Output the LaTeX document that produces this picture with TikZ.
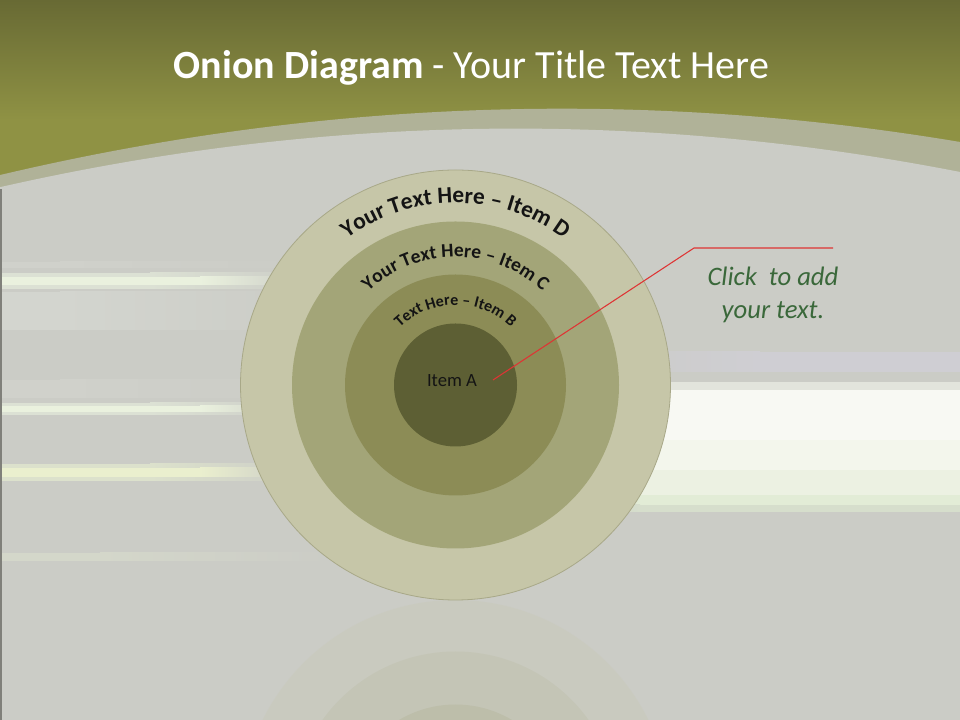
\documentclass[tikz,border=0pt]{standalone}
\usepackage{fontspec}
\setmainfont{Carlito}
\usetikzlibrary{decorations.text}
\definecolor{bgray}{RGB}{203,204,198}
\definecolor{bandc}{RGB}{176,178,152}
\definecolor{olTop}{RGB}{104,106,52}
\definecolor{olBot}{RGB}{143,146,68}
\definecolor{ringD}{RGB}{198,198,168}
\definecolor{ringC}{RGB}{163,165,120}
\definecolor{ringB}{RGB}{140,140,86}
\definecolor{ringA}{RGB}{93,95,52}
\definecolor{ringEdge}{RGB}{168,168,136}
\definecolor{calloutRed}{RGB}{222,52,52}
\definecolor{calloutGreen}{RGB}{58,104,58}
\definecolor{edgeGray}{RGB}{128,128,122}
% streak colours
\definecolor{sBright}{RGB}{234,241,222}
\definecolor{sSoft}{RGB}{220,225,212}
\definecolor{sBroad}{RGB}{211,213,207}
\definecolor{sFaint}{RGB}{208,209,203}
\definecolor{sYel}{RGB}{234,239,206}
\definecolor{sYelSoft}{RGB}{220,225,204}
\definecolor{sLow}{RGB}{212,215,202}
\definecolor{rLav}{RGB}{207,206,211}
\definecolor{rEdge}{RGB}{226,228,220}
\definecolor{rW1}{RGB}{248,249,243}
\definecolor{rW2}{RGB}{243,246,236}
\definecolor{rW3}{RGB}{236,241,226}
\definecolor{rW4}{RGB}{226,236,214}
\definecolor{rW5}{RGB}{214,222,204}
% streak helpers
\newcommand\leftstreak[5]{\fill[#5] (0,{720-#3}) rectangle (#1,{720-#4});
  \shade[left color=#5, right color=bgray] (#1,{720-#3}) rectangle (#2,{720-#4});}
\newcommand\rightstreak[5]{\shade[left color=bgray, right color=#5] (#1,{720-#3}) rectangle (#2,{720-#4});
  \fill[#5] (#2,{720-#3}) rectangle (960,{720-#4});}
\tikzset{
  ring/.style={circle, inner sep=0pt, outer sep=0pt},
  arctext/.style={decorate, decoration={text along path, text align=center, text color=black!92}},
  refl/.style={circle, inner sep=0pt, fill opacity=#1},
}
\begin{document}
\begin{tikzpicture}[x=0.75pt,y=0.75pt]
\useasboundingbox (0,0) rectangle (960,720);
\begin{scope}
\clip (0,0) rectangle (960,720);
% header
\shade[top color=olTop, bottom color=olBot] (0,720) rectangle (960,600);
\fill[olBot] (0,600.5) rectangle (960,500);
% band
\fill[bandc] plot[domain=0:960,samples=60] (\x,{720-108.7-2.1*((\x-562)/100)^2}) -- (960,480) -- (0,480) -- cycle;
% gray body
\fill[bgray] plot[domain=0:960,samples=60] (\x,{720-128.6-2.2*((\x-516)/100)^2}) -- (960,0) -- (0,0) -- cycle;
% streaks left
\leftstreak{60}{330}{292}{330}{sBroad}
\leftstreak{60}{320}{380}{398}{sFaint}
\leftstreak{60}{300}{262}{268}{sFaint}
\leftstreak{150}{320}{273}{289}{sSoft}
\leftstreak{200}{310}{277}{285}{sBright}
\leftstreak{150}{320}{403}{415}{sSoft}
\leftstreak{200}{300}{406}{412}{sBright}
\leftstreak{150}{320}{464}{481}{sYelSoft}
\leftstreak{200}{300}{468}{477}{sYel}
\leftstreak{100}{330}{553}{561}{sLow}
% streaks right
\rightstreak{560}{760}{352}{372}{rLav}
\rightstreak{560}{640}{382}{390}{rEdge}
\rightstreak{560}{640}{390}{440}{rW1}
\rightstreak{560}{640}{440}{470}{rW2}
\rightstreak{560}{640}{470}{495}{rW3}
\rightstreak{560}{640}{495}{505}{rW4}
\rightstreak{560}{640}{505}{512}{rW5}
% left edge line
\fill[edgeGray] (0,0) rectangle (2,{720-189});
% reflection
\node[refl=0.22, fill=ringD, minimum size=322.5pt] (reflD) at (455.5,-95) {};
\node[refl=0.12, fill=ringC, minimum size=245.25pt] (reflC) at (455.5,-95) {};
\node[refl=0.12, fill=ringB, minimum size=165.75pt] (reflB) at (455.5,-95) {};
\end{scope}
% rings
\node[ring, fill=ringD, draw=ringEdge, line width=0.6pt, minimum size=322.5pt] (itemD) at (455.5,335) {};
\node[ring, fill=ringC, minimum size=245.25pt] (itemC) at (455.5,335) {};
\node[ring, fill=ringB, minimum size=165.75pt] (itemB) at (455.5,335) {};
\node[ring, fill=ringA, minimum size=92.25pt] (itemA) at (455.5,335) {};
% curved texts
\path[arctext, decoration={text={|\fontsize{17.5}{20}\selectfont\bfseries|Your Text Here – Item D}}]
  (455.5,335) ++(180:182) arc[start angle=180, end angle=0, radius=182];
\path[arctext, decoration={text={|\fontsize{14.6}{17}\selectfont\bfseries|Your Text Here – Item C}}]
  (455.5,335) ++(180:128) arc[start angle=180, end angle=0, radius=128];
\path[arctext, decoration={text={|\fontsize{12}{14}\selectfont\bfseries|Text Here – Item B}}]
  (455.5,335) ++(180:80) arc[start angle=180, end angle=0, radius=80];
\node[font=\fontsize{14}{16}\selectfont, text=black!92] (labelA) at (452,339) {Item A};
% title
\node[font=\fontsize{30}{35}\selectfont, text=white] (title) at (471.5,652) {\textbf{Onion Diagram} - Your Title Text Here};
% callout
\coordinate (tip) at (493,340);
\coordinate (elbow) at (694,472);
\coordinate (lineend) at (833,472);
\draw[calloutRed, line width=0.8pt] (tip) -- (elbow) -- (lineend);
\node[font=\fontsize{20}{24.75}\selectfont\itshape, text=calloutGreen, align=center] (note) at (773,425) {Click\ \ to add\\your text.};
\end{tikzpicture}
\end{document}
